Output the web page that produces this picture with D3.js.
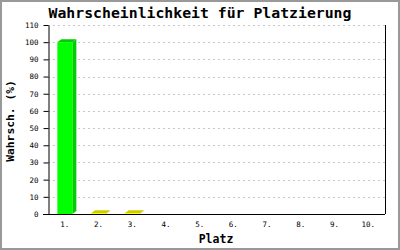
<!DOCTYPE html>
<html>
<head>
<meta charset="utf-8">
<script src="https://cdn.jsdelivr.net/npm/d3@7"></script>
<style>
  body { margin: 0; background: #fff; }
  svg { display: block; }
</style>
</head>
<body>
<div id="chart"></div>
<script>
// chart data
const places = ["1.", "2.", "3.", "4.", "5.", "6.", "7.", "8.", "9.", "10."];
const probabilities = [100, 0.5, 0.5, 0, 0, 0, 0, 0, 0, 0];
const yTicks = [0, 10, 20, 30, 40, 50, 60, 70, 80, 90, 100, 110];
const titleText = "Wahrscheinlichkeit für Platzierung";
const xTitle = "Platz";
const yTitle = "Wahrsch. (%)";

const width = 400, height = 250;
const margin = { left: 48, right: 15, top: 25, bottom: 36 };
const font = "'DejaVu Sans Mono', 'Liberation Mono', monospace";

const svg = d3.select("#chart").append("svg")
    .attr("width", width)
    .attr("height", height);

// outer frame
svg.append("rect")
    .attr("x", 1).attr("y", 1)
    .attr("width", width - 2).attr("height", height - 2)
    .attr("fill", "#fff")
    .attr("stroke", "#999")
    .attr("stroke-width", 2);

const x = d3.scaleBand()
    .domain(places)
    .range([margin.left, width - margin.right]);

const y = d3.scaleLinear()
    .domain([0, 110])
    .range([height - margin.bottom, margin.top]);

// dashed grid lines
svg.append("g")
    .selectAll("line")
    .data(yTicks.filter(d => d > 0))
    .enter()
    .append("line")
    .attr("x1", margin.left)
    .attr("x2", width - margin.right)
    .attr("y1", d => Math.round(y(d)) + 0.5)
    .attr("y2", d => Math.round(y(d)) + 0.5)
    .attr("stroke", "#c8c8c8")
    .attr("stroke-dasharray", "2,3");

// right border of plot
svg.append("line")
    .attr("x1", width - margin.right + 0.5)
    .attr("x2", width - margin.right + 0.5)
    .attr("y1", y(110))
    .attr("y2", y(0))
    .attr("stroke", "#000");

// bars with a small 3d look
const depth = 4;
const barW = 15;
const bars = svg.append("g")
    .selectAll("g")
    .data(places.map((p, i) => ({ place: p, value: probabilities[i] })).filter(d => d.value > 0))
    .enter()
    .append("g");

const front = (d, i) => (i === 0 ? "#00ff00" : "#ffff00");
const shade = (d, i) => (i === 0 ? "#00cc00" : "#cccc00");

bars.each(function(d, i) {
    const g = d3.select(this);
    const x0 = x(d.place) + x.bandwidth() / 2 - barW / 2;
    const yTop = y(d.value);
    const yBot = y(0);
    // side
    g.append("path")
        .attr("d", `M${x0 + barW},${yTop} L${x0 + barW + depth},${yTop - 3} L${x0 + barW + depth},${yBot - 3} L${x0 + barW},${yBot} Z`)
        .attr("fill", shade(d, i));
    // top
    g.append("path")
        .attr("d", `M${x0},${yTop} L${x0 + depth},${yTop - 3} L${x0 + barW + depth},${yTop - 3} L${x0 + barW},${yTop} Z`)
        .attr("fill", shade(d, i));
    // front
    g.append("rect")
        .attr("x", x0)
        .attr("y", yTop)
        .attr("width", barW)
        .attr("height", yBot - yTop)
        .attr("fill", front(d, i));
});

// y axis
const yAxis = svg.append("g")
    .attr("transform", `translate(${margin.left + 0.5},0)`)
    .call(d3.axisLeft(y).tickValues(yTicks).tickSize(5).tickSizeOuter(0).tickPadding(5));
yAxis.select(".domain").attr("stroke", "#000");
yAxis.selectAll("line").attr("stroke", "#000");
yAxis.selectAll("text")
    .attr("font-family", font)
    .attr("font-size", 7.5)
    .attr("fill", "#000");

// x axis
const xAxis = svg.append("g")
    .attr("transform", `translate(0,${y(0) + 0.5})`)
    .call(d3.axisBottom(x).tickSize(0).tickPadding(7));
xAxis.select(".domain").attr("stroke", "#000").attr("d", `M${margin.left - 5},0H${width - margin.right}`);
xAxis.selectAll("text")
    .attr("font-family", font)
    .attr("font-size", 7.5)
    .attr("fill", "#000");

// titles
svg.append("text")
    .attr("x", 200)
    .attr("y", 18)
    .attr("text-anchor", "middle")
    .attr("font-family", font)
    .attr("font-weight", "bold")
    .attr("font-size", 14.8)
    .text(titleText);

svg.append("text")
    .attr("x", 216)
    .attr("y", 243)
    .attr("text-anchor", "middle")
    .attr("font-family", font)
    .attr("font-weight", "bold")
    .attr("font-size", 11.5)
    .text(xTitle);

svg.append("text")
    .attr("transform", "translate(14,121) rotate(-90)")
    .attr("text-anchor", "middle")
    .attr("font-family", font)
    .attr("font-weight", "bold")
    .attr("font-size", 11.3)
    .text(yTitle);
</script>
</body>
</html>
